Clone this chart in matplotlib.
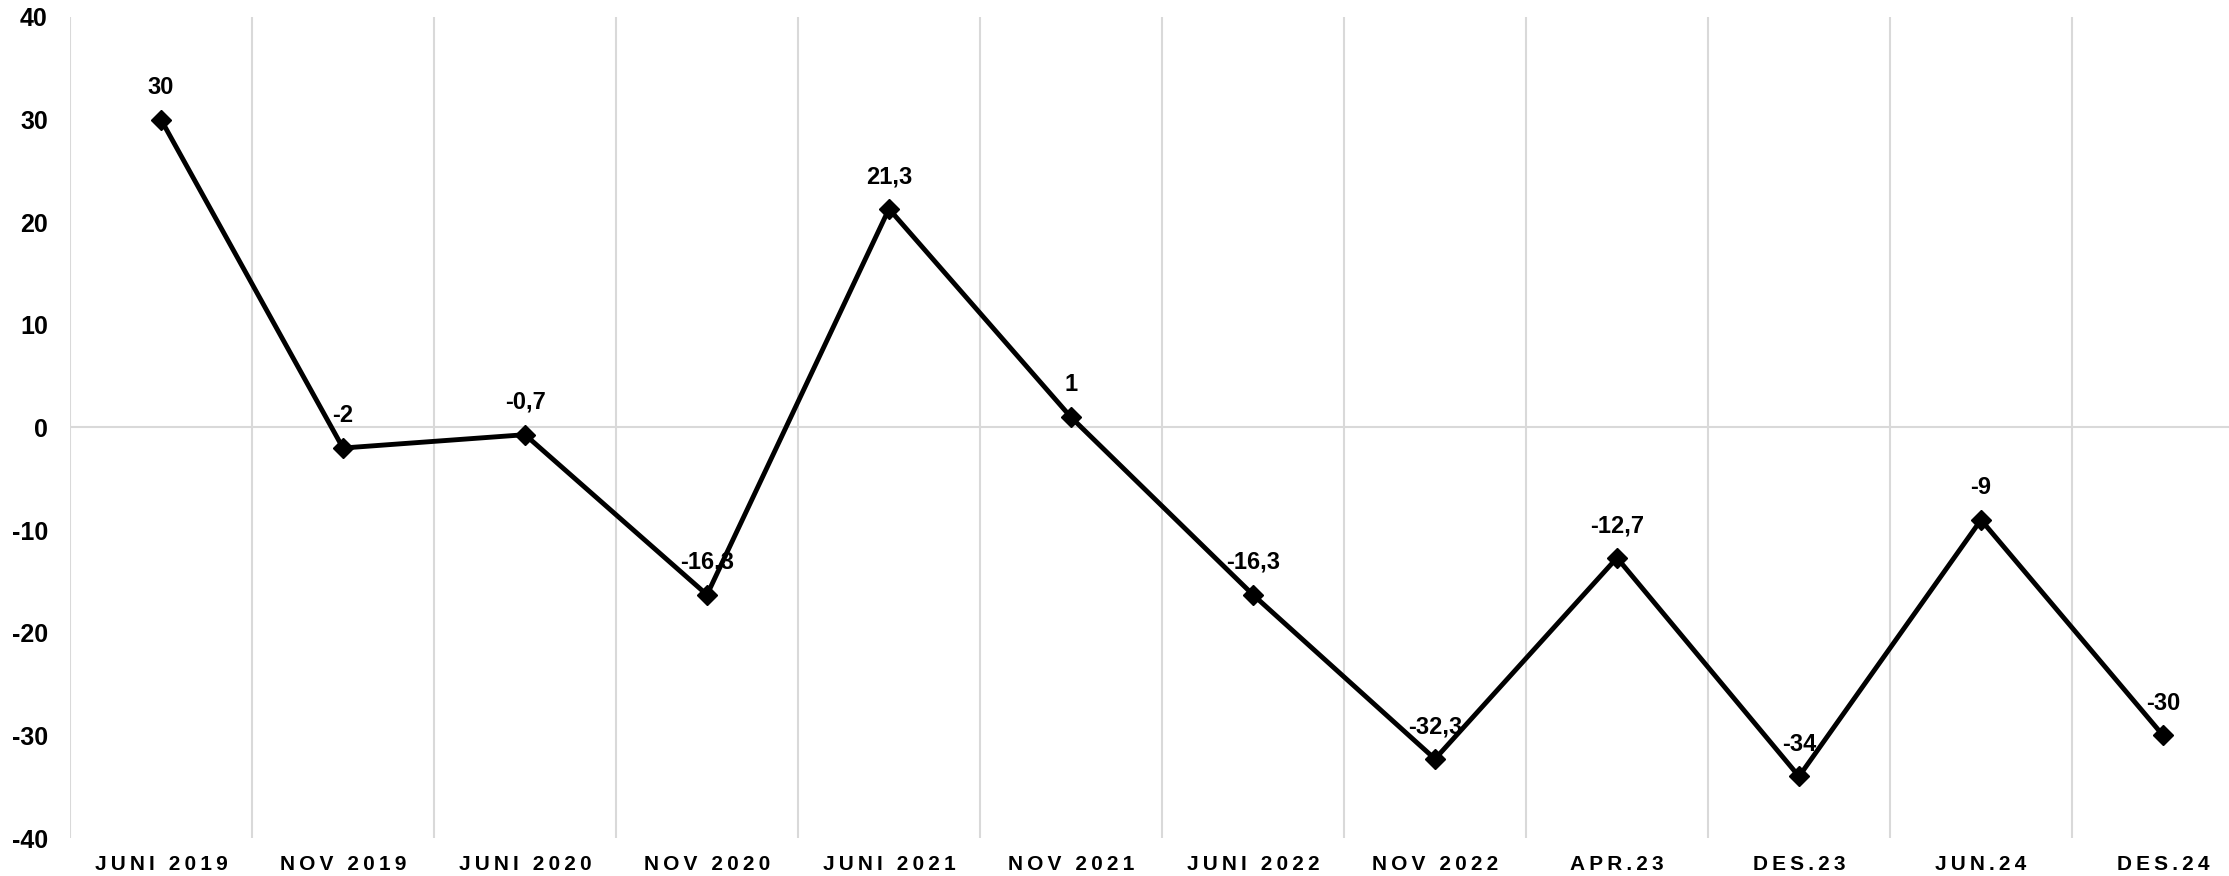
import numpy as np
import matplotlib.pyplot as plt

plt.rcParams['font.family'] = ['Liberation Sans', 'DejaVu Sans']

periods = ['JUNI 2019', 'NOV 2019', 'JUNI 2020', 'NOV 2020', 'JUNI 2021', 'NOV 2021',
           'JUNI 2022', 'NOV 2022', 'APR.23', 'DES.23', 'JUN.24', 'DES.24']
values = [30, -2, -0.7, -16.3, 21.3, 1, -16.3, -32.3, -12.7, -34, -9, -30]
y_ticks = [40, 30, 20, 10, 0, -10, -20, -30, -40]


def spaced(s):
    # letter spacing like the original axis labels
    return '\u2009'.join(s)


fig = plt.figure(figsize=(22.29, 8.76), dpi=100)
ax = fig.add_axes([70 / 2229, 38 / 876, 2184 / 2229, 821 / 876])

x = np.arange(len(values))
ax.plot(x, values, color='black', lw=3.5, marker='D', markersize=10, zorder=3)

for xi, v in zip(x, values):
    lab = ('%g' % v).replace('.', ',')
    ax.annotate(lab, (xi, v), xytext=(0, 15), textcoords='offset points',
                ha='center', va='bottom', fontsize=17, fontweight='bold', zorder=4)

# category boundaries as vertical grid lines
for b in np.arange(-0.5, len(values), 1.0):
    ax.axvline(b, color='#d9d9d9', lw=1.5, zorder=1)
ax.axhline(0, color='#d9d9d9', lw=1.5, zorder=1)

ax.set_xlim(-0.5, len(values) - 0.5)
ax.set_ylim(-40, 40)
ax.set_yticks(y_ticks)
ax.set_yticklabels([str(t) for t in y_ticks], fontsize=18, fontweight='bold')
ax.set_xticks(x)
ax.set_xticklabels([spaced(p) for p in periods], fontsize=15, fontweight='bold')
ax.tick_params(axis='both', length=0)
ax.tick_params(axis='y', pad=16)
ax.tick_params(axis='x', pad=12)
for s in ax.spines.values():
    s.set_visible(False)

fig.savefig('out.png', dpi=100)
